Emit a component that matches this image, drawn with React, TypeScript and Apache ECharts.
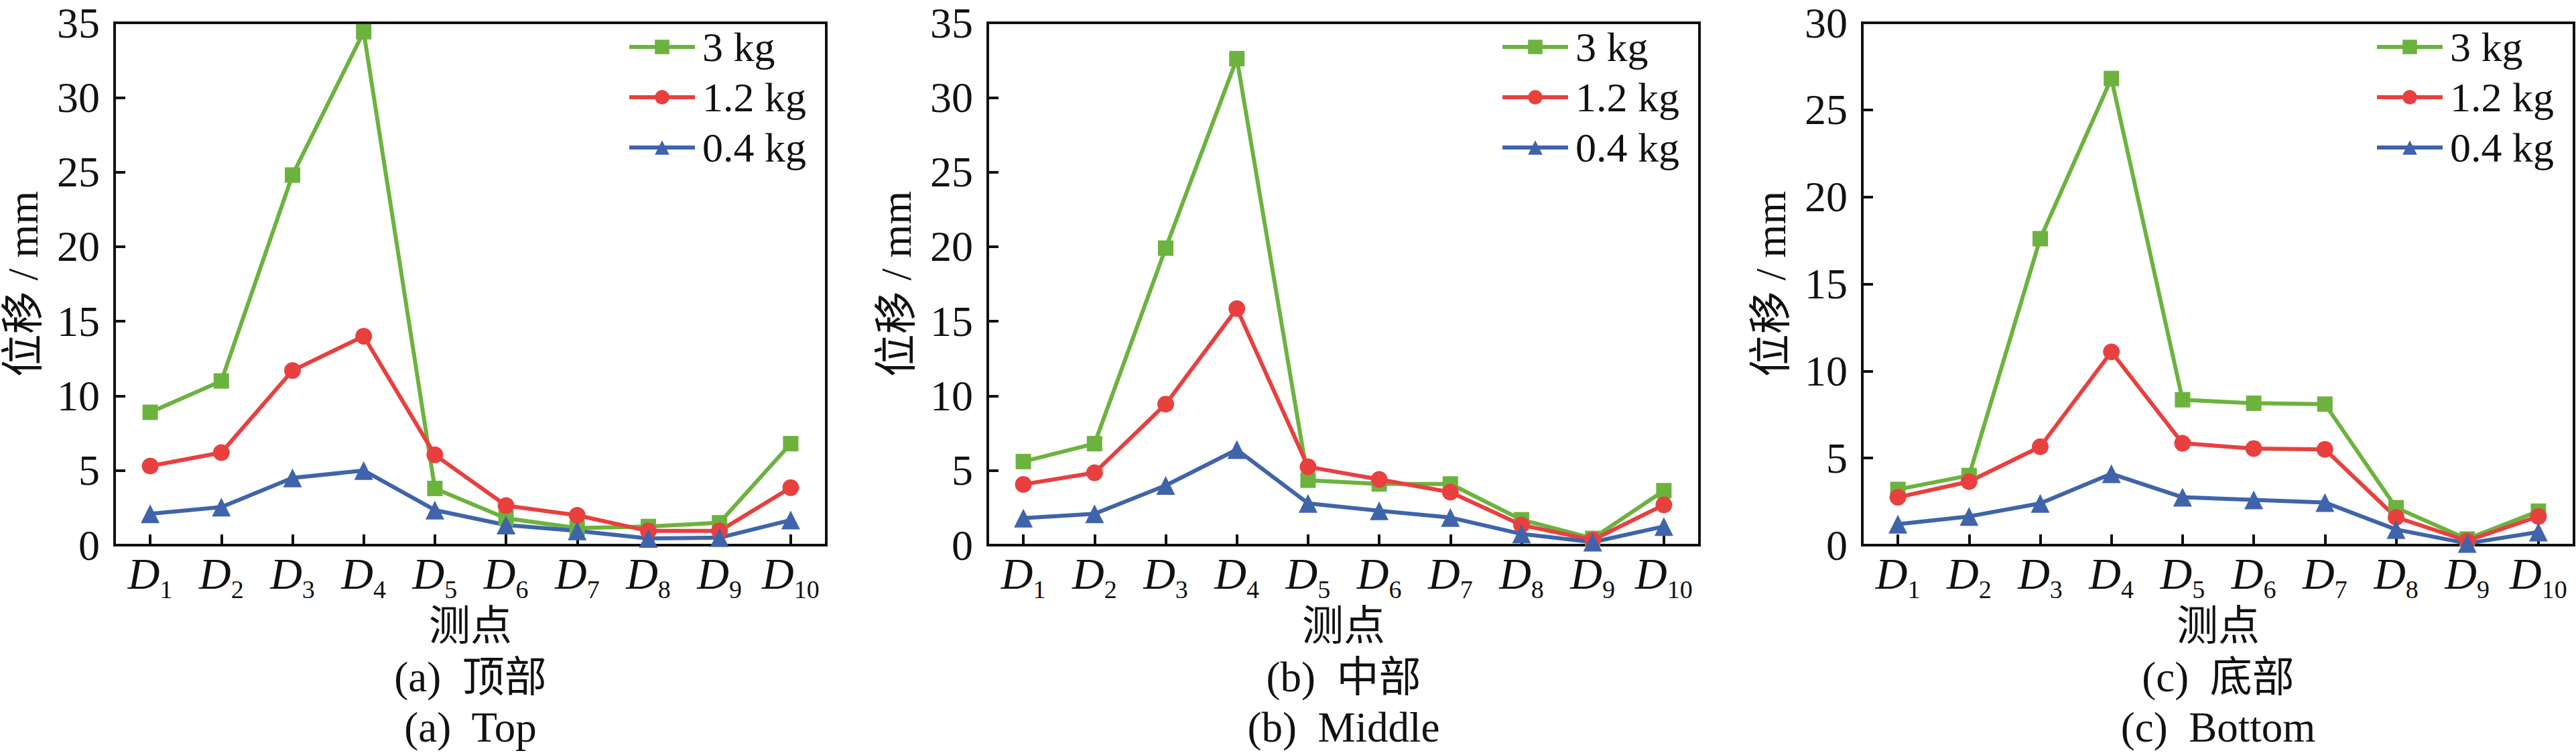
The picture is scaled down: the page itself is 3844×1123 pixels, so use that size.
import React, { useEffect, useRef } from "react";
import * as echarts from "echarts";

const categories = ["D1", "D2", "D3", "D4", "D5", "D6", "D7", "D8", "D9", "D10"];
const seriesNames = ["3 kg", "1.2 kg", "0.4 kg"];

const top3 = [8.9, 11.0, 24.8, 34.4, 3.8, 1.8, 1.15, 1.25, 1.5, 6.8];
const top12 = [5.3, 6.2, 11.7, 14.0, 6.05, 2.65, 2.0, 0.95, 0.95, 3.85];
const top04 = [2.1, 2.55, 4.5, 5.0, 2.35, 1.35, 0.95, 0.45, 0.5, 1.68];

const mid3 = [5.6, 6.8, 19.9, 32.6, 4.35, 4.1, 4.1, 1.7, 0.45, 3.65];
const mid12 = [4.07, 4.85, 9.45, 15.85, 5.25, 4.4, 3.55, 1.35, 0.35, 2.7];
const mid04 = [1.81, 2.1, 4.0, 6.4, 2.8, 2.3, 1.85, 0.75, 0.2, 1.25];

const bot3 = [3.2, 4.0, 17.6, 26.8, 8.35, 8.15, 8.1, 2.15, 0.35, 1.95];
const bot12 = [2.75, 3.65, 5.65, 11.1, 5.85, 5.55, 5.5, 1.6, 0.25, 1.65];
const bot04 = [1.2, 1.65, 2.4, 4.1, 2.75, 2.6, 2.45, 0.9, 0.1, 0.75];

const yMaxes = [35, 35, 30];
const captionsCn = ["(a)  顶部", "(b)  中部", "(c)  底部"];
const captionsEn = ["(a)  Top", "(b)  Middle", "(c)  Bottom"];
const yTitle = "位移 / mm";
const xTitle = "测点";

const panels = [
  [top3, top12, top04],
  [mid3, mid12, mid04],
  [bot3, bot12, bot04],
];

const colors = ["#6cb33e", "#e8403f", "#3f64ab"];
const symbols = ["rect", "circle", "triangle"];
const symbolSizes = [23, 25, 28];

const FONT = "'Liberation Serif', 'Times New Roman', 'Noto Sans CJK SC', serif";

export default function App() {
  const ref = useRef<HTMLDivElement>(null);
  useEffect(() => {
    document.body.style.margin = "0";
    if (!ref.current) return;
    const chart = echarts.init(ref.current, undefined, { renderer: "svg" });
    const gridLefts = [171, 1474, 2779];
    const gridW = 1062;
    const gridTop = 34;
    const gridH = 779;

    const grid = gridLefts.map((l) => ({
      left: l,
      top: gridTop,
      width: gridW,
      height: gridH,
      show: true,
      borderColor: "#111",
      borderWidth: 4,
      backgroundColor: "transparent",
    }));

    const xAxis = gridLefts.map((_, i) => ({
      type: "category",
      gridIndex: i,
      data: categories,
      boundaryGap: true,
      axisLine: { show: true, lineStyle: { color: "#111", width: 4 } },
      axisTick: { show: true, inside: true, alignWithLabel: true, length: 16, lineStyle: { color: "#111", width: 4 } },
      splitLine: { show: false },
      axisLabel: {
        margin: 0,
        interval: 0,
        formatter: (v: string) => `{d|D}{s|${v.slice(1)}}`,
        rich: {
          d: { fontFamily: FONT, fontSize: 66, fontStyle: "italic", color: "#111" },
          s: { fontFamily: FONT, fontSize: 38, color: "#111", padding: [47, 0, 0, 0] },
        },
      },
      name: xTitle,
      nameLocation: "middle",
      nameGap: 120,
      nameTextStyle: { fontFamily: FONT, fontSize: 62, color: "#111", verticalAlign: "middle" },
    }));

    const yAxis = gridLefts.map((_, i) => ({
      type: "value",
      gridIndex: i,
      min: 0,
      max: yMaxes[i],
      interval: 5,
      axisLine: { show: true, lineStyle: { color: "#111", width: 4 } },
      axisTick: { show: true, inside: true, length: 16, lineStyle: { color: "#111", width: 4 } },
      splitLine: { show: false },
      axisLabel: { margin: 22, fontFamily: FONT, fontSize: 64, lineHeight: 44, color: "#111" },
      name: yTitle,
      nameLocation: "middle",
      nameGap: 137,
      nameTextStyle: { fontFamily: FONT, fontSize: 64, lineHeight: 60, color: "#111", verticalAlign: "middle" },
    }));

    const series: any[] = [];
    panels.forEach((panel, i) => {
      panel.forEach((vals, k) => {
        series.push({
          type: "line",
          name: seriesNames[k],
          xAxisIndex: i,
          yAxisIndex: i,
          data: vals,
          symbol: symbols[k],
          symbolSize: symbolSizes[k],
          showAllSymbol: true,
          lineStyle: { color: colors[k], width: 6 },
          itemStyle: { color: colors[k] },
          emphasis: { disabled: true },
        });
      });
    });

    const legend = gridLefts.map((l) => ({
      orient: "vertical",
      left: l + 760,
      top: 34,
      data: seriesNames,
      itemWidth: 98,
      itemHeight: 27,
      itemGap: 13,
      selectedMode: false,
      lineStyle: { width: 6 },
      textStyle: { fontFamily: FONT, fontSize: 62, color: "#111", lineHeight: 62, padding: [0, 0, 0, 6] },
    }));

    const graphic: any[] = [];
    gridLefts.forEach((l, i) => {
      const cx = l + gridW / 2;
      graphic.push({
        type: "text",
        x: cx,
        y: 1010,
        style: { text: captionsCn[i], fontFamily: FONT, fontSize: 63, lineHeight: 60, fill: "#111", align: "center", verticalAlign: "middle" },
      });
      graphic.push({
        type: "text",
        x: cx,
        y: 1085,
        style: { text: captionsEn[i], fontFamily: FONT, fontSize: 63, lineHeight: 60, fill: "#111", align: "center", verticalAlign: "middle" },
      });
    });

    chart.setOption({
      animation: false,
      backgroundColor: "#fff",
      grid,
      xAxis,
      yAxis,
      series,
      legend,
      graphic,
    });
    return () => chart.dispose();
  }, []);
  return <div ref={ref} style={{ width: 3844, height: 1123 }} />;
}
